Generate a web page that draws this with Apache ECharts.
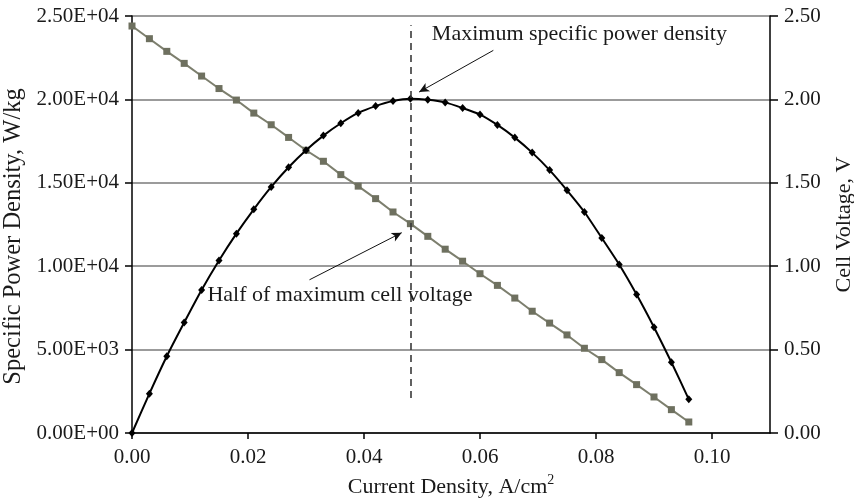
<!DOCTYPE html>
<html>
<head>
<meta charset="utf-8">
<script src="https://cdn.jsdelivr.net/npm/echarts@6/dist/echarts.min.js"></script>
<style>
  html, body { margin: 0; padding: 0; background: #fff; }
  #chart { width: 854px; height: 499px; }
</style>
</head>
<body>
<div id="chart"></div>
<script>
// Current density, A/cm2
var currentDensity = [0, 0.003, 0.006, 0.009, 0.012, 0.015, 0.018, 0.021, 0.024, 0.027,
  0.030, 0.033, 0.036, 0.039, 0.042, 0.045, 0.048, 0.051, 0.054, 0.057, 0.060, 0.063,
  0.066, 0.069, 0.072, 0.075, 0.078, 0.081, 0.084, 0.087, 0.090, 0.093, 0.096];
// Specific power density, W/kg
var powerDensity = [0, 2360, 4600, 6620, 8570, 10340, 11950, 13410, 14750, 15930,
  16950, 17830, 18570, 19190, 19600, 19900, 20040, 19980, 19820, 19480, 19090, 18470,
  17710, 16810, 15760, 14550, 13250, 11690, 10100, 8300, 6340, 4240, 2020];
// Cell voltage, V
var cellVoltage = [2.440, 2.364, 2.288, 2.216, 2.140, 2.065, 1.996, 1.918, 1.848, 1.772,
  1.695, 1.629, 1.549, 1.480, 1.405, 1.325, 1.255, 1.179, 1.102, 1.030, 0.955, 0.885,
  0.809, 0.730, 0.659, 0.588, 0.508, 0.440, 0.362, 0.290, 0.216, 0.140, 0.066];
// Axis ticks
var xTicks = [0, 0.02, 0.04, 0.06, 0.08, 0.10];
// Operating point of maximum power and the reference line through it
var peakCurrent = 0.048;
var peakLineSpan = [2100, 24450];
// Annotation arrows (tail, head) in data units
var arrowPeak = [[0.0623, 22940], [0.0495, 20440]];
var arrowHalf = [[0.0306, 9185], [0.0465, 12010]];
// Annotation text anchors (left edge, vertical centre)
var notePeak = { text: 'Maximum specific power density', at: [0.0517, 23960] };
var noteHalf = { text: 'Half of maximum cell voltage', at: [0.0130, 8315] };

var FONT = 'Liberation Serif';
var TXT = '#1a1a1a';
var TICK_FONT = 21;

function sci(v) {
  if (v === 0) return '0.00E+00';
  var e = Math.floor(Math.log10(Math.abs(v)));
  var m = v / Math.pow(10, e);
  var es = (e < 0 ? '-' : '+') + (Math.abs(e) < 10 ? '0' : '') + Math.abs(e);
  return m.toFixed(2) + 'E' + es;
}

var powerData = currentDensity.map(function (x, i) { return [x, powerDensity[i]]; });
var voltageData = currentDensity.map(function (x, i) { return [x, cellVoltage[i]]; });

var chart = echarts.init(document.getElementById('chart'), null, { renderer: 'canvas' });

var option = {
  animation: false,
  backgroundColor: '#fff',
  textStyle: { fontFamily: FONT },
  grid: { left: 132, right: 84, top: 16, bottom: 66, containLabel: false, outerBoundsMode: 'none' },
  xAxis: {
    type: 'value', min: 0, max: 0.11,
    name: '{a|Current Density, A/cm}{s|2}',
    nameLocation: 'middle', nameGap: 38,
    nameTextStyle: {
      rich: {
        a: { fontFamily: FONT, fontSize: 22, color: TXT },
        s: { fontFamily: FONT, fontSize: 14, color: TXT, padding: [0, 0, 14, 0] }
      }
    },
    axisLine: { show: true, onZero: false, lineStyle: { color: '#000', width: 1.5 } },
    axisTick: { show: true, length: 6, inside: false, customValues: xTicks, lineStyle: { color: '#000', width: 1.5 } },
    axisLabel: {
      customValues: xTicks, margin: 14,
      fontFamily: FONT, fontSize: TICK_FONT, color: TXT,
      formatter: function (v) { return v.toFixed(2); }
    },
    splitLine: { show: false }
  },
  yAxis: [{
    type: 'value', min: 0, max: 25000, interval: 5000, position: 'left',
    name: 'Specific Power Density, W/kg',
    nameLocation: 'middle', nameGap: 103, nameRotate: 90,
    nameTextStyle: { fontFamily: FONT, fontSize: 24.5, color: TXT, padding: [0, 24, 0, 0] },
    axisLine: { show: true, lineStyle: { color: '#000', width: 1.5 } },
    axisTick: { show: true, length: 7, lineStyle: { color: '#000', width: 1.5 } },
    axisLabel: { margin: 13, fontFamily: FONT, fontSize: TICK_FONT, color: TXT, formatter: sci },
    splitLine: { show: true, lineStyle: { color: '#7a7a7a', width: 1.5 } }
  }, {
    type: 'value', min: 0, max: 2.5, interval: 0.5, position: 'right',
    name: 'Cell Voltage, V',
    nameLocation: 'middle', nameGap: 63, nameRotate: 90,
    nameTextStyle: { fontFamily: FONT, fontSize: 22, color: TXT },
    axisLine: { show: true, lineStyle: { color: '#000', width: 1.5 } },
    axisTick: { show: true, length: 8, lineStyle: { color: '#000', width: 1.5 } },
    axisLabel: { margin: 14, fontFamily: FONT, fontSize: TICK_FONT, color: TXT, formatter: function (v) { return v.toFixed(2); } },
    splitLine: { show: false }
  }],
  series: [{
    name: 'Cell voltage',
    type: 'line', yAxisIndex: 1, data: voltageData,
    symbol: 'rect', symbolSize: 7,
    itemStyle: { color: '#6e705f' },
    lineStyle: { color: '#7d7f6e', width: 2 },
    z: 2
  }, {
    name: 'Specific power density',
    type: 'line', yAxisIndex: 0, data: powerData,
    smooth: 0.2,
    symbol: 'diamond', symbolSize: [7, 8],
    itemStyle: { color: '#000' },
    lineStyle: { color: '#000', width: 2 },
    z: 3,
    markLine: {
      silent: true, animation: false,
      label: { show: false },
      data: [
        [{ coord: [peakCurrent, peakLineSpan[0]], symbol: 'none', lineStyle: { color: '#3a3a3a', width: 1.6, type: [7, 5] } },
         { coord: [peakCurrent, peakLineSpan[1]], symbol: 'none' }],
        [{ coord: arrowPeak[0], symbol: 'none', lineStyle: { color: '#111', width: 1, type: 'solid' } },
         { coord: arrowPeak[1], symbol: 'arrow', symbolSize: [7, 10] }],
        [{ coord: arrowHalf[0], symbol: 'none', lineStyle: { color: '#111', width: 1, type: 'solid' } },
         { coord: arrowHalf[1], symbol: 'arrow', symbolSize: [7, 10] }]
      ]
    }
  }]
};

chart.setOption(option);

// Place the two annotation captions at their data anchors
function caption(note) {
  var p = chart.convertToPixel({ xAxisIndex: 0, yAxisIndex: 0 }, note.at);
  return {
    type: 'text', left: p[0], top: p[1] - 10,
    style: { text: note.text, fontFamily: FONT, fontSize: 22, fill: TXT, textVerticalAlign: 'top' },
    z: 10
  };
}
chart.setOption({ graphic: [caption(notePeak), caption(noteHalf)] });
</script>
</body>
</html>
